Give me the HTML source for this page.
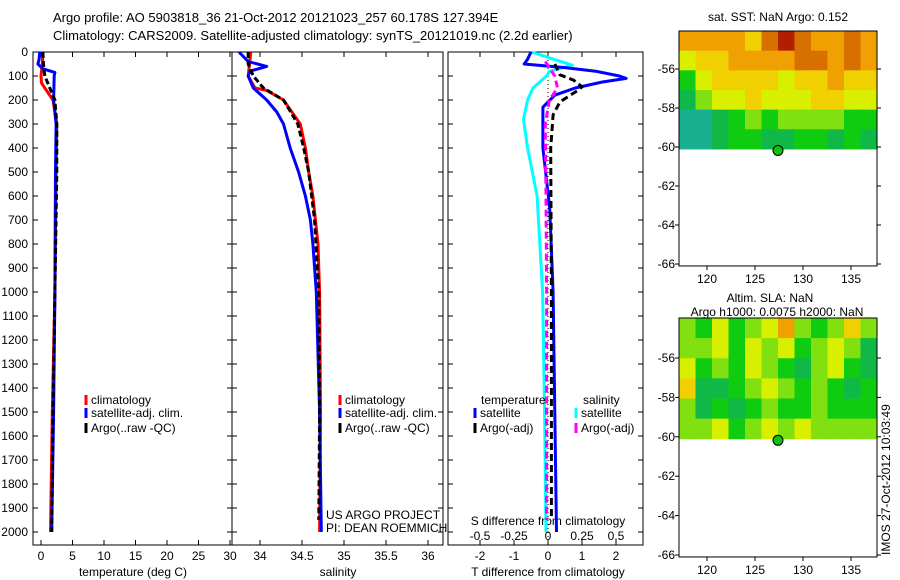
<!DOCTYPE html>
<html><head><meta charset="utf-8"><style>
body{margin:0;background:#fff}
svg{display:block;font-family:"Liberation Sans",sans-serif}
</style></head><body>
<svg id="chart" width="900" height="580" viewBox="0 0 900 580">
<text x="53" y="22" font-size="13">Argo profile: AO 5903818_36 21-Oct-2012 20121023_257 60.178S 127.394E</text>
<text x="53" y="40" font-size="13">Climatology: CARS2009. Satellite-adjusted climatology: synTS_20121019.nc (2.2d earlier)</text>
<g id="g"></g>
</svg>
<script>
// ---- data ----
const tempClimDepth=[0,50,100,130,150,200,300,500,1000,1500,2000];
const tempClimVal=[0.3,0.2,0.0,0.1,0.6,1.9,2.5,2.4,2.2,1.8,1.5];
const tempSatDepth=[0,30,50,70,85,100,200,300,500,1000,1500,2000];
const tempSatVal=[-0.2,-0.3,-0.5,0.3,2.2,2.1,2.0,2.4,2.3,2.2,2.0,1.7];
const tempArgoDepth=[0,50,100,150,200,300,500,1000,1500,2000];
const tempArgoVal=[0.3,0.4,0.6,1.4,2.2,2.5,2.5,2.2,1.9,1.7];
const salClimDepth=[0,100,150,160,200,300,400,500,600,800,1000,1500,2000];
const salClimVal=[33.89,33.86,33.94,34.08,34.28,34.48,34.54,34.58,34.63,34.69,34.71,34.72,34.71];
const salSatDepth=[0,40,60,80,100,150,200,250,300,400,500,600,700,800,1000,1500,2000];
const salSatVal=[33.75,33.86,34.08,33.88,33.86,33.92,34.08,34.2,34.28,34.36,34.46,34.54,34.6,34.63,34.67,34.71,34.73];
const salArgoDepth=[0,50,100,150,200,300,400,500,700,1000,1500,1950];
const salArgoVal=[33.86,33.86,33.92,34.04,34.28,34.45,34.52,34.58,34.65,34.7,34.71,34.7];
const dTSatDepth=[0,30,50,65,80,100,110,125,150,180,230,400,650,1000,1500,2000];
const dTSatVal=[-0.5,-0.6,-0.7,0.5,1.4,2.1,2.3,1.6,0.8,0.2,-0.15,-0.15,0.05,0.15,0.2,0.25];
const dTArgoDepth=[50,95,117,145,158,208,262,400,1000,1500,1950];
const dTArgoVal=[0.2,0.35,0.75,1.0,0.9,0.35,0.15,0.08,0.1,0.1,0.1];
const dSSatDepth=[0,30,55,80,100,150,200,280,400,600,1000,1500,2000];
const dSSatVal=[-0.12,0.04,0.18,0.01,-0.01,-0.11,-0.15,-0.18,-0.15,-0.08,-0.04,-0.025,-0.015];
const dSArgoDepth=[40,100,150,200,300,600,1000,1500,1950];
const dSArgoVal=[-0.02,0.05,0.07,0.01,-0.02,-0.015,-0.01,-0.01,-0.01];
const depthTicks=[0,100,200,300,400,500,600,700,800,900,1000,1100,1200,1300,1400,1500,1600,1700,1800,1900,2000];
const tempTicks=[0,5,10,15,20,25,30];
const salTicks=[34,34.5,35,35.5,36];
const dTTicks=[-2,-1,0,1,2];
const dSTicks=[-0.5,-0.25,0,0.25,0.5];
const sstRows=["777768987787","566777788787","356666566766","245565556655","112343444433","112332233232"];
const slaRows=["435345743464","445354534542","534354324532","622345434323","423234334333","445345454444"];
const latTicks=[-56,-58,-60,-62,-64,-66];
const lonTicks=[120,125,130,135];
const argoLon=127.394, argoLat=-60.178;

const NS="http://www.w3.org/2000/svg";
const G=document.getElementById('g');
function el(t,a,p){const e=document.createElementNS(NS,t);for(const k in a)e.setAttribute(k,a[k]);(p||G).appendChild(e);return e;}
function txt(x,y,s,a,p){const e=el('text',Object.assign({x:x,y:y,'font-size':12},a||{}),p);e.textContent=s;return e;}

const pTop=52, bot=545;
const yD=d=>pTop+d*0.24;
const panels=[
 {x0:33,x1:232,sx:v=>41+v*6.3},
 {x0:232,x1:443,sx:v=>260+(v-34)*84},
 {x0:448,x1:643,sx:v=>548+v*34,ss:v=>548+v*136}
];
panels.forEach((p,i)=>{
 const r=el('rect',{x:p.x0,y:pTop,width:p.x1-p.x0,height:bot-pTop,fill:'none',stroke:'#000','stroke-width':1});
 
 
 depthTicks.forEach(d=>{
  el('line',{x1:p.x0,x2:p.x0+5,y1:yD(d),y2:yD(d),stroke:'#000'});
  el('line',{x1:p.x1,x2:p.x1-5,y1:yD(d),y2:yD(d),stroke:'#000'});
 });
});
depthTicks.forEach(d=>{const t=txt(28,yD(d)+4,String(d),{'text-anchor':'end'});
 
 });
function xt(p,ticks){ticks.forEach(v=>{const x=p.sx(v);
 el('line',{x1:x,x2:x,y1:pTop,y2:pTop+5,stroke:'#000'});el('line',{x1:x,x2:x,y1:bot,y2:bot-5,stroke:'#000'});
 const t=txt(x,560,String(v),{'text-anchor':'middle'});
 
 });}
xt(panels[0],tempTicks);xt(panels[1],salTicks);xt(panels[2],dTTicks);
dSTicks.forEach(v=>{const t=txt(panels[2].ss(v),540,String(v),{'text-anchor':'middle'});
 
 });
[[133,'temperature (deg C)','x-axis-title-temperature'],[338,'salinity','x-axis-title-salinity'],[548,'T difference from climatology','x-axis-title-t-diff']].forEach(a=>{
 const t=txt(a[0],576,a[1],{'text-anchor':'middle'});
 
 });
{const t=txt(548,525,'S difference from climatology',{'text-anchor':'middle'});
 
 }
el('line',{x1:548,x2:548,y1:pTop,y2:bot,stroke:'#000','stroke-dasharray':'1,3'});
function line(ds,vs,sx,color,dash,name){
 const pts=ds.map((d,i)=>sx(vs[i]).toFixed(1)+','+yD(d).toFixed(1)).join(' ');
 const e=el('polyline',{points:pts,fill:'none',stroke:color,'stroke-width':3,'stroke-dasharray':dash||'none','stroke-linejoin':'round'});
 
 
}
const P=panels;
line(tempClimDepth,tempClimVal,P[0].sx,'#f00',null,'temp-climatology-line');
line(tempSatDepth,tempSatVal,P[0].sx,'#00f',null,'temp-satellite-line');
line(tempArgoDepth,tempArgoVal,P[0].sx,'#000','6,3','temp-argo-line');
line(salClimDepth,salClimVal,P[1].sx,'#f00',null,'sal-climatology-line');
line(salSatDepth,salSatVal,P[1].sx,'#00f',null,'sal-satellite-line');
line(salArgoDepth,salArgoVal,P[1].sx,'#000','6,3','sal-argo-line');
line(dSSatDepth,dSSatVal,P[2].ss,'#0ff',null,'s-diff-satellite-line');
line(dTSatDepth,dTSatVal,P[2].sx,'#00f',null,'t-diff-satellite-line');
line(dSArgoDepth,dSArgoVal,P[2].ss,'#f0f','7,4','s-diff-argo-line');
line(dTArgoDepth,dTArgoVal,P[2].sx,'#000','7,4','t-diff-argo-line');
function leg(x,y,color,label,name){
 el('line',{x1:x,x2:x,y1:y-9,y2:y+1,stroke:color,'stroke-width':3});
 const t=txt(x+5,y,label);
 
 
}
[86,340].forEach(x=>{
 leg(x,404,'#f00','climatology','legend-entry-climatology');
 leg(x,417,'#00f','satellite-adj. clim.','legend-entry-satellite-adj');
 leg(x,432,'#000','Argo(..raw -QC)','legend-entry-argo');
});
txt(481,404,'temperature');
txt(583,404,'salinity');
leg(475,417,'#00f','satellite','legend-entry-t-satellite');
leg(475,432,'#000','Argo(-adj)','legend-entry-t-argo');
leg(576,417,'#0ff','satellite','legend-entry-s-satellite');
leg(576,432,'#f0f','Argo(-adj)','legend-entry-s-argo');
txt(326,519,'US ARGO PROJECT');
txt(326,532,'PI: DEAN ROEMMICH');
const cmap=['#20a0a0','#18b090','#10b848','#10cc10','#80e010','#d8f000','#f0d000','#f0a000','#d87000','#b02000'];
function map(yT,lat56y,pxDeg,rows,name){
 const lx=v=>707+(v-120)*9.6, ly=v=>lat56y+(-56-v)*pxDeg;
 const x0=679,x1=877,yB=ly(-66.1);
 const gm=el('g',{});
 
 
 const y60=ly(-60.1), cw=(x1-x0)/rows[0].length, ch=(y60-yT)/rows.length;
 rows.forEach((r,ri)=>{[...r].forEach((c,ci)=>{
  el('rect',{x:x0+ci*cw,y:yT+ri*ch,width:cw+0.5,height:ch+0.5,fill:cmap[+c]},gm);
 });});
 el('rect',{x:x0,y:yT,width:x1-x0,height:yB-yT,fill:'none',stroke:'#000'},gm);
 latTicks.forEach(v=>{el('line',{x1:x0,x2:x0-4,y1:ly(v),y2:ly(v),stroke:'#000'},gm);
  el('line',{x1:x1,x2:x1+4,y1:ly(v),y2:ly(v),stroke:'#000'},gm);
  txt(675,ly(v)+4,String(v),{'text-anchor':'end'},gm);});
 lonTicks.forEach(v=>{el('line',{x1:lx(v),x2:lx(v),y1:yB,y2:yB+4,stroke:'#000'},gm);
  txt(lx(v),yB+17,String(v),{'text-anchor':'middle'},gm);});
 const c=el('circle',{cx:lx(argoLon),cy:ly(argoLat),r:5,fill:'#10c010',stroke:'#000'},gm);
 
 
}
map(31,69,19.5,sstRows,'sst-map');
map(318,358,19.7,slaRows,'sla-map');
txt(778,21,'sat. SST: NaN Argo: 0.152',{'text-anchor':'middle'});
txt(770,302,'Altim. SLA: NaN',{'text-anchor':'middle'});
txt(777,316,'Argo h1000: 0.0075 h2000: NaN',{'text-anchor':'middle'});
const ts=txt(0,0,'IMOS 27-Oct-2012 10:03:49',{transform:'translate(890,555) rotate(-90)'});


</script>
</body></html>
